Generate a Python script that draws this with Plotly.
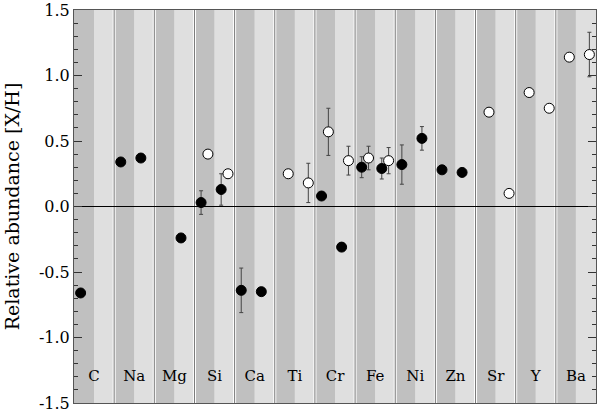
import plotly.graph_objects as go

ELEMENTS = ["C", "Na", "Mg", "Si", "Ca", "Ti", "Cr", "Fe", "Ni", "Zn", "Sr", "Y", "Ba"]

# four slots per element: filled (1st half), open (1st half), filled (2nd half), open (2nd half)
FILLED_1 = [-0.66, 0.34, None, 0.03, -0.64, None, 0.08, 0.30, 0.32, 0.28, None, None, None]
FILLED_1_ERR = [0, 0, 0, 0.09, 0.17, 0, 0, 0.08, 0.15, 0, 0, 0, 0]
OPEN_1 = [None, None, None, 0.40, None, 0.25, 0.57, 0.37, None, None, 0.72, 0.87, 1.14]
OPEN_1_ERR = [0, 0, 0, 0, 0, 0, 0.18, 0.09, 0, 0, 0, 0, 0]
FILLED_2 = [None, 0.37, -0.24, 0.13, -0.65, None, -0.31, 0.29, 0.52, 0.26, None, None, None]
FILLED_2_ERR = [0, 0, 0, 0.12, 0, 0, 0, 0.08, 0.09, 0, 0, 0, 0]
OPEN_2 = [None, None, None, 0.25, None, 0.18, 0.35, 0.35, None, None, 0.10, 0.75, 1.16]
OPEN_2_ERR = [0, 0, 0, 0, 0, 0.15, 0.11, 0.10, 0, 0, 0, 0, 0.17]

Y_TICKS = [-1.5, -1.0, -0.5, 0.0, 0.5, 1.0, 1.5]
Y_TICK_TEXT = ["-1.5", "-1.0", "-0.5", "0.0", "0.5", "1.0", "1.5"]

SERIF = "DejaVu Serif"
DARK = "#c0c0c0"
LIGHT = "#dfdfdf"


def _slot(values, errors, offset):
    xs, ys, es = [], [], []
    for i, (v, e) in enumerate(zip(values, errors)):
        if v is None:
            continue
        xs.append(2 * i + offset)
        ys.append(v)
        es.append(e)
    return xs, ys, es


fig = go.Figure()

shapes = []
n = len(ELEMENTS)
for i in range(n):
    shapes.append(dict(type="rect", xref="x", yref="paper", x0=2 * i, x1=2 * i + 1, y0=0, y1=1,
                       fillcolor=DARK, line_width=0, layer="below"))
    shapes.append(dict(type="rect", xref="x", yref="paper", x0=2 * i + 1, x1=2 * i + 2, y0=0, y1=1,
                       fillcolor=LIGHT, line_width=0, layer="below"))
for i in range(1, n):
    shapes.append(dict(type="line", xref="x", yref="paper", x0=2 * i, x1=2 * i, y0=0, y1=1,
                       line=dict(color="white", width=3), layer="below"))
    shapes.append(dict(type="line", xref="x", yref="paper", x0=2 * i, x1=2 * i, y0=0, y1=1,
                       line=dict(color="#777777", width=1), layer="below"))
shapes.append(dict(type="line", xref="paper", yref="y", x0=0, x1=1, y0=0, y1=0,
                   line=dict(color="black", width=1), layer="below"))

for values, errors, offset, filled in (
    (FILLED_1, FILLED_1_ERR, 0.33, True),
    (OPEN_1, OPEN_1_ERR, 0.67, False),
    (FILLED_2, FILLED_2_ERR, 1.33, True),
    (OPEN_2, OPEN_2_ERR, 1.67, False),
):
    xs, ys, es = _slot(values, errors, offset)
    fig.add_trace(go.Scatter(
        x=xs, y=ys, mode="markers",
        error_y=dict(type="data", array=es, visible=True, color="#444444", thickness=1, width=2),
        marker=dict(size=10, color="black" if filled else "white",
                    line=dict(color="black", width=1)),
        showlegend=False,
    ))

fig.add_trace(go.Scatter(
    x=[2 * i + 1 for i in range(n)], y=[-1.30] * n, mode="text", text=ELEMENTS,
    textfont=dict(family=SERIF, size=15, color="black"), showlegend=False, hoverinfo="skip",
))

fig.update_layout(
    width=600, height=409,
    margin=dict(l=74, r=4, t=10, b=6, autoexpand=False),
    paper_bgcolor="white", plot_bgcolor=LIGHT,
    shapes=shapes,
    font=dict(family=SERIF, size=16, color="black"),
    xaxis=dict(range=[0, 2 * n], showticklabels=False, showgrid=False, zeroline=False,
               showline=True, linecolor="#555555", linewidth=1, mirror=True, ticks=""),
    yaxis=dict(range=[-1.5, 1.5], tickmode="array", tickvals=Y_TICKS, ticktext=Y_TICK_TEXT,
               ticklabeloverflow="allow", automargin=False,
               showgrid=False, zeroline=False,
               showline=True, linecolor="#555555", linewidth=1, mirror="ticks",
               ticks="inside", ticklen=8, tickcolor="#333333",
               minor=dict(dtick=0.1, ticks="inside", ticklen=4, tickcolor="#333333"),
               title=dict(text="Relative abundance [X/H]", standoff=14)),
)

fig.write_html("out.html", config={"displayModeBar": False},
               post_script="document.body.style.margin='0';")
